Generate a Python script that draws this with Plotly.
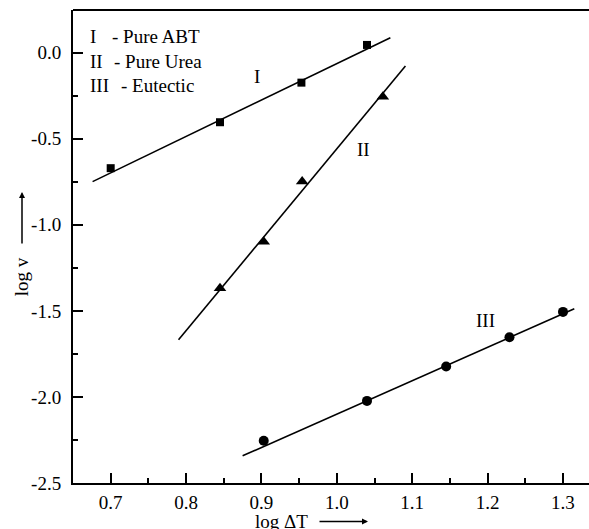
import plotly.graph_objects as go

# ---- data ----
abt_x = [0.700, 0.845, 0.953, 1.040]
abt_y = [-0.671, -0.404, -0.174, 0.045]
abt_fit_x = [0.676, 1.071]
abt_fit_y = [-0.749, 0.087]

urea_x = [0.845, 0.903, 0.954, 1.061]
urea_y = [-1.368, -1.099, -0.749, -0.256]
urea_fit_x = [0.790, 1.091]
urea_fit_y = [-1.668, -0.077]

eut_x = [0.903, 1.040, 1.145, 1.229, 1.300]
eut_y = [-2.255, -2.023, -1.823, -1.653, -1.506]
eut_fit_x = [0.875, 1.315]
eut_fit_y = [-2.342, -1.488]

series_labels = ["I", "II", "III"]
series_label_x = [0.894, 1.035, 1.197]
series_label_y = [-0.139, -0.565, -1.558]

legend_numerals = ["I", "II", "III"]
legend_texts = ["- Pure ABT", "- Pure Urea", "- Eutectic"]

x_tickvals = [0.7, 0.8, 0.9, 1.0, 1.1, 1.2, 1.3]
y_tickvals = [0.0, -0.5, -1.0, -1.5, -2.0, -2.5]

FONT = "Liberation Serif, Times New Roman, serif"
FS = 19

fig = go.Figure()

line_style = dict(color="black", width=1.6)
for fx, fy in [(abt_fit_x, abt_fit_y), (urea_fit_x, urea_fit_y), (eut_fit_x, eut_fit_y)]:
    fig.add_trace(go.Scatter(x=fx, y=fy, mode="lines", line=line_style,
                             showlegend=False, hoverinfo="skip"))

fig.add_trace(go.Scatter(x=abt_x, y=abt_y, mode="markers",
                         marker=dict(symbol="square", size=8, color="black"),
                         showlegend=False))
fig.add_trace(go.Scatter(x=urea_x, y=urea_y, mode="markers",
                         marker=dict(symbol="triangle-up", size=11, color="black"),
                         showlegend=False))
fig.add_trace(go.Scatter(x=eut_x, y=eut_y, mode="markers",
                         marker=dict(symbol="circle", size=10, color="black"),
                         showlegend=False))

annotations = []
for t, x, y in zip(series_labels, series_label_x, series_label_y):
    annotations.append(dict(x=x, y=y, xref="x", yref="y", text=t, showarrow=False,
                            xanchor="center", yanchor="middle",
                            font=dict(family=FONT, size=FS, color="black")))

# legend-like text block (top-left)
num_px = 88
text_px = [110, 112, 119]
rows_py = [36.7, 61.7, 86.0]


def px2x(px):
    return (px - 73) / 516.0


def py2y(py):
    return (483.3 - py) / 473.3


for n, t, tx, ry in zip(legend_numerals, legend_texts, text_px, rows_py):
    annotations.append(dict(x=px2x(num_px), y=py2y(ry), xref="paper", yref="paper",
                            text=n, showarrow=False, xanchor="left", yanchor="middle",
                            font=dict(family=FONT, size=FS, color="black")))
    annotations.append(dict(x=px2x(tx), y=py2y(ry), xref="paper", yref="paper",
                            text=t, showarrow=False, xanchor="left", yanchor="middle",
                            font=dict(family=FONT, size=FS, color="black")))

# axis titles with arrows
annotations.append(dict(x=px2x(21.7), y=py2y(276.7), xref="paper", yref="paper",
                        text="log v", textangle=-90, showarrow=False,
                        xanchor="center", yanchor="middle",
                        font=dict(family=FONT, size=FS, color="black")))
annotations.append(dict(x=px2x(22), y=py2y(192), xref="paper", yref="paper",
                        text="", showarrow=True, ax=0, ay=53, arrowhead=2,
                        arrowsize=0.8, arrowwidth=1.5, arrowcolor="black"))
annotations.append(dict(x=px2x(281.7), y=py2y(521.5), xref="paper", yref="paper",
                        text="log \u0394T", showarrow=False,
                        xanchor="center", yanchor="middle",
                        font=dict(family=FONT, size=FS, color="black")))
annotations.append(dict(x=px2x(368), y=py2y(521.7), xref="paper", yref="paper",
                        text="", showarrow=True, ax=-50, ay=0, arrowhead=2,
                        arrowsize=0.8, arrowwidth=1.5, arrowcolor="black"))

fig.update_layout(
    width=589, height=529,
    margin=dict(l=73, r=0, t=10, b=46),
    plot_bgcolor="white", paper_bgcolor="white",
    showlegend=False,
    annotations=annotations,
    shapes=[dict(type="line", xref="paper", yref="paper", x0=0, x1=1, y0=1, y1=1,
                 line=dict(color="black", width=2))],
    font=dict(family=FONT, size=FS, color="black"),
)

fig.update_xaxes(range=[0.65, 1.3345], showgrid=False, zeroline=False,
                 showline=True, linecolor="black", linewidth=2,
                 ticks="inside", ticklen=10, tickwidth=1.5, tickcolor="black",
                 tickvals=x_tickvals, ticktext=[f"{v:.1f}" for v in x_tickvals],
                 ticklabelstandoff=1,
                 minor=dict(dtick=0.05, tick0=0.0, ticks="inside", ticklen=5,
                            tickwidth=1.5, tickcolor="black", showgrid=False),
                 tickfont=dict(family=FONT, size=FS, color="black"))
fig.update_yaxes(range=[-2.5, 0.248], showgrid=False, zeroline=False,
                 showline=True, linecolor="black", linewidth=2,
                 ticks="inside", ticklen=10, tickwidth=1.5, tickcolor="black",
                 tickvals=y_tickvals, ticktext=[f"{v:.1f}" for v in y_tickvals],
                 ticklabelstandoff=6,
                 minor=dict(dtick=0.25, tick0=0.0, ticks="inside", ticklen=5,
                            tickwidth=1.5, tickcolor="black", showgrid=False),
                 tickfont=dict(family=FONT, size=FS, color="black"))

fig.write_html("out.html", config={"displayModeBar": False},
               post_script="document.body.style.margin='0';document.body.style.overflow='hidden';")
